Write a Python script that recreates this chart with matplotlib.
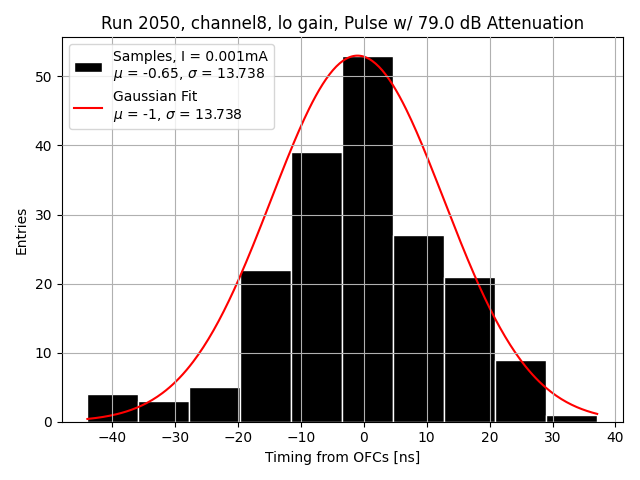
import numpy as np
import matplotlib
matplotlib.use("Agg")
import matplotlib.pyplot as plt

bin_lo = -43.94
bin_hi = 37.1
counts = [4, 3, 5, 22, 39, 53, 27, 21, 9, 1]
fit_amp = 53.0
fit_mu = -1.0
fit_sigma = 13.738

edges = np.linspace(bin_lo, bin_hi, len(counts) + 1)

fig, ax = plt.subplots(figsize=(6.4, 4.8), dpi=100)
ax.hist(edges[:-1], bins=edges, weights=counts, color='black', edgecolor='white',
        linewidth=1, label='Samples, I = 0.001mA\n$\\mu$ = -0.65, $\\sigma$ = 13.738')
x = np.linspace(bin_lo, bin_hi, 300)
ax.plot(x, fit_amp * np.exp(-0.5 * ((x - fit_mu) / fit_sigma) ** 2), color='red',
        label='Gaussian Fit\n$\\mu$ = -1, $\\sigma$ = 13.738')
ax.grid(True)
ax.set_axisbelow(False)
ax.set_xlabel('Timing from OFCs [ns]')
ax.set_ylabel('Entries')
ax.set_title('Run 2050, channel8, lo gain, Pulse w/ 79.0 dB Attenuation')
ax.legend(loc='upper left')
fig.tight_layout()
fig.savefig('out.png')
